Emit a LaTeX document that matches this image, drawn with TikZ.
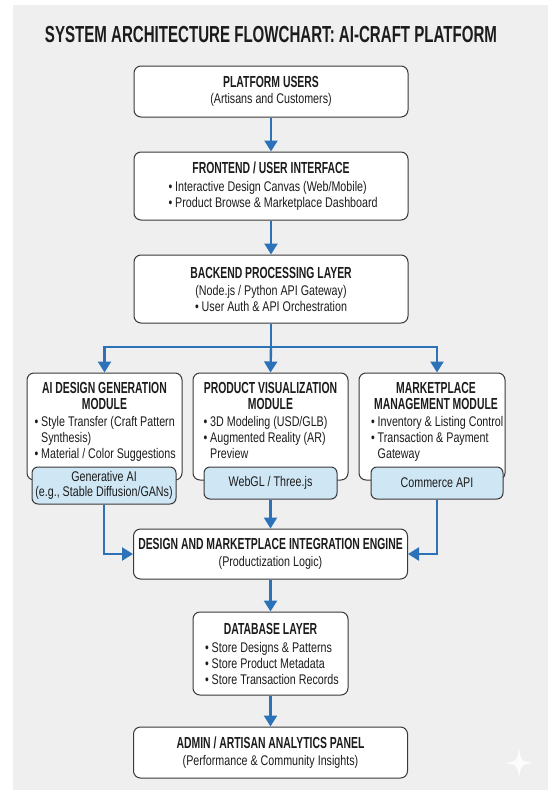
\documentclass[tikz,border=0pt]{standalone}
\usepackage{fontspec}
\setmainfont{Liberation Sans}[FakeStretch=0.765,BoldFeatures={FakeStretch=0.65}]
\usetikzlibrary{arrows.meta}
\definecolor{bggrey}{HTML}{EFEFEF}
\definecolor{boxline}{HTML}{383838}
\definecolor{flowblue}{HTML}{2B72B8}
\definecolor{techfill}{HTML}{CFE6F4}
\definecolor{ink}{HTML}{1C1C1C}
\newcommand{\hd}[1]{{\fontsize{16}{17}\selectfont\bfseries #1}}
\newcommand{\itemline}[2]{\makebox[#1][l]{\textbullet\ #2}}
\newcommand{\itemcont}[2]{\makebox[#1][l]{\phantom{\textbullet\ }#2}}
\tikzset{%
  every node/.style={font=\fontsize{14}{16}\selectfont, text=ink},%
  box/.style={draw=boxline, fill=white, line width=1pt, rounded corners=7pt, align=center, inner sep=2pt},%
  techbox/.style={draw=boxline, fill=techfill, line width=1pt, rounded corners=6pt, align=center, inner sep=2pt, font=\fontsize{14}{15}\selectfont},%
  modtext/.style={anchor=north, align=center, inner sep=0pt},%
  flow/.style={draw=flowblue, line width=2.4pt, -{Triangle[width=13pt,length=11pt]}},%
}
\begin{document}
\begin{tikzpicture}[x=1pt,y=-1pt]%
\useasboundingbox (0,0) rectangle (548,793);%
\fill[white] (0,0) rectangle (548,793);%
\fill[bggrey] (13,5) rectangle (548,790);%
%
\def\wide{274};%
\def\narrow{155};%
\node[font=\fontsize{23.2}{26}\selectfont\bfseries] (title) at (271,35) {SYSTEM ARCHITECTURE FLOWCHART: AI-CRAFT PLATFORM};%
%
\node[box, minimum width=\wide, minimum height=51] (users) at (271,91.5) {\hd{PLATFORM USERS}\\(Artisans and Customers)};%
\node[box, minimum width=\wide, minimum height=68] (front) at (271,186) {\hd{FRONTEND / USER INTERFACE}\\[2pt]%
  \itemline{205pt}{Interactive Design Canvas (Web/Mobile)}\\\itemline{205pt}{Product Browse \& Marketplace Dashboard}};%
\node[box, minimum width=\wide, minimum height=68] (back) at (271,289) {\hd{BACKEND PROCESSING LAYER}\\[1pt](Node.js / Python API Gateway)\\\textbullet\ User Auth \& API Orchestration};%
%
% modules
\node[box, minimum width=\narrow, minimum height=107] (modA) at (104.5,426.5) {};%
\node[box, minimum width=\narrow, minimum height=107] (modB) at (270.5,426.5) {};%
\node[box, minimum width=146, minimum height=107] (modC) at (432,426.5) {};%
\node[modtext] (modAtext) at ([yshift=-10]modA.north) {\hd{AI DESIGN GENERATION}\\\hd{MODULE}\\[1pt]%
  \itemline{140pt}{Style Transfer (Craft Pattern}\\\itemcont{140pt}{Synthesis)}\\\itemline{140pt}{Material / Color Suggestions}};%
\node[modtext] (modBtext) at ([yshift=-10]modB.north) {\hd{PRODUCT VISUALIZATION}\\\hd{MODULE}\\[1pt]%
  \itemline{134pt}{3D Modeling (USD/GLB)}\\\itemline{134pt}{Augmented Reality (AR)}\\\itemcont{134pt}{Preview}};%
\node[modtext] (modCtext) at ([xshift=4,yshift=-10]modC.north) {\hd{MARKETPLACE}\\\hd{MANAGEMENT MODULE}\\[1pt]%
  \itemline{130pt}{Inventory \& Listing Control}\\\itemline{130pt}{Transaction \& Payment}\\\itemcont{130pt}{Gateway}};%
\node[techbox, minimum width=144, minimum height=37] (techA) at (104,485.5) {Generative AI\\(e.g., Stable Diffusion/GANs)};%
\node[techbox, minimum width=133, minimum height=32] (techB) at (270.5,483) {WebGL / Three.js};%
\node[techbox, minimum width=132, minimum height=32] (techC) at (437,483) {Commerce API};%
%
\node[box, minimum width=\wide, minimum height=50] (integ) at (270.5,554) {\hd{DESIGN AND MARKETPLACE INTEGRATION ENGINE}\\[1pt](Productization Logic)};%
\node[box, minimum width=\narrow, minimum height=83] (db) at (270.5,653.5) {\hd{DATABASE LAYER}\\[2pt]%
  \itemline{131pt}{Store Designs \& Patterns}\\\itemline{131pt}{Store Product Metadata}\\\itemline{131pt}{Store Transaction Records}};%
\node[box, minimum width=\wide, minimum height=51] (admin) at (270.5,752.5) {\hd{ADMIN / ARTISAN ANALYTICS PANEL}\\[1pt](Performance \& Community Insights)};%
%
% connectors
\coordinate (bus) at (271,347);%
\draw[flow] (users) -- (front);%
\draw[flow] (front) -- (back);%
\draw[draw=flowblue, line width=2.4pt] (back.south) -- (bus);%
\draw[flow] (bus) -| (modA.north);%
\draw[flow] (bus) -- (modB.north);%
\draw[flow] (bus) -| (techC.north |- modC.north);%
\draw[flow] (techA.south) |- (integ.west);%
\draw[flow] (techB.south) -- (integ.north);%
\draw[flow] (techC.south) |- (integ.east);%
\draw[flow] (integ) -- (db);%
\draw[flow] (db) -- (admin);%
%
% sparkle
\fill[white, opacity=0.85] (519,748) .. controls (521,761) .. (533,763) .. controls (521,765) .. (519,778) .. controls (517,765) .. (505,763) .. controls (517,761) .. cycle;%
\end{tikzpicture}
\end{document}
